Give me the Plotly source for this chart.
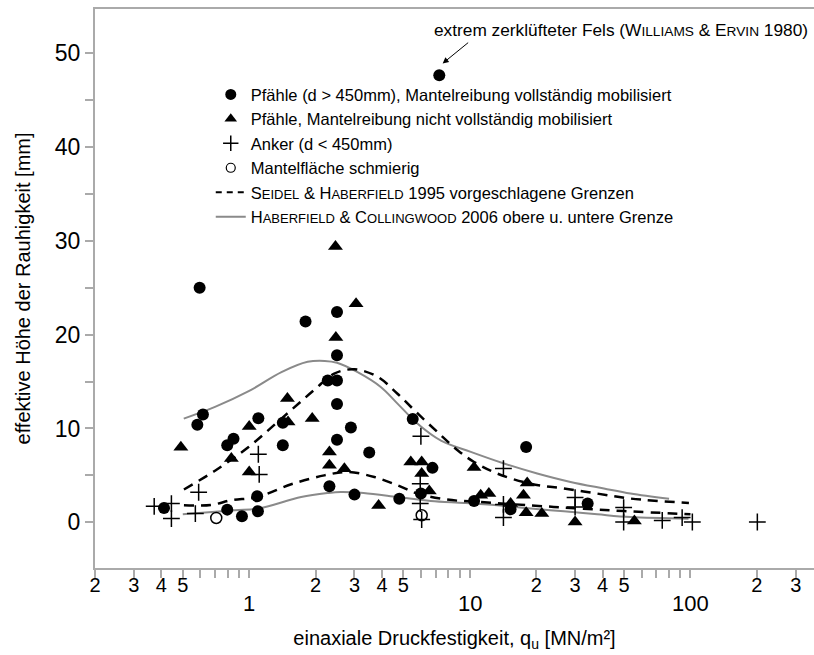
import math
import plotly.graph_objects as go

# ---------------- data ----------------
# Pfähle (d > 450mm), Mantelreibung vollständig mobilisiert  (filled circles)
PF_X = [0.411, 0.596, 0.617, 0.582, 0.795, 0.849, 0.795, 0.927, 1.095, 1.087, 1.10, 1.42, 1.42,
        1.80, 2.5, 2.5, 2.27, 2.5, 2.5, 2.5, 2.89, 3.5, 2.31, 3.0, 4.79, 5.51, 6.77, 6.0,
        7.27, 10.45, 15.3, 18.0, 34.2]
PF_Y = [1.53, 25.0, 11.5, 10.4, 8.2, 8.9, 1.35, 0.64, 1.17, 2.77, 11.1, 10.6, 8.2,
        21.4, 22.4, 17.8, 15.1, 15.1, 12.6, 8.8, 10.1, 7.43, 3.84, 2.95, 2.5, 11.0, 5.8, 3.06,
        47.65, 2.27, 1.39, 8.03, 2.0]

# Pfähle, Mantelreibung nicht vollständig mobilisiert (filled triangles)
PN_X = [0.49, 0.83, 1.0, 1.0, 1.50, 1.49, 1.93, 2.46, 2.47, 2.31, 2.31, 2.7, 3.05, 3.86,
        5.4, 6.05, 6.05, 6.55, 10.45, 11.2, 12.2, 15.3, 18.2, 17.5, 18.0, 21.2, 30.0, 55.7]
PN_Y = [8.0, 6.8, 10.2, 5.36, 10.7, 13.2, 11.05, 29.4, 19.7, 7.5, 6.08, 5.7, 23.3, 1.8,
        6.43, 6.43, 5.2, 3.34, 5.83, 2.88, 3.06, 2.0, 4.19, 2.88, 1.03, 0.93, 0.03, 0.14]

# Anker (d < 450mm) (plus signs)
AN_X = [0.371, 0.444, 0.444, 0.59, 0.57, 1.1, 1.11, 6.0, 5.96, 5.96, 6.05, 14.2, 14.2, 14.2,
        30.0, 30.0, 49.8, 49.8, 74.5, 91.7, 102.0, 201.0]
AN_Y = [1.7, 2.0, 0.4, 3.2, 0.93, 7.25, 5.1, 9.17, 4.1, 2.0, 0.29, 5.72, 1.9, 0.5,
        2.63, 1.63, 1.57, 0.03, 0.2, 0.5, 0.03, 0.03]

# Mantelfläche schmierig (open circles)
MS_X = [0.709, 6.05]
MS_Y = [0.46, 0.75]

# Seidel & Haberfield 1995 (dashed) upper / lower
SH_UP_X = [0.506, 0.70, 0.99, 1.4, 1.97, 2.43, 3.0, 3.82, 4.7, 5.8, 7.4, 8.8, 10.45, 13.3, 18.9, 26.7, 37.8, 53.5, 98.4]
SH_UP_Y = [3.5, 5.5, 8.0, 11.05, 14.1, 15.85, 16.3, 15.5, 13.7, 11.6, 9.27, 7.68, 6.43, 5.2, 4.1, 3.6, 3.06, 2.53, 2.06]
SH_LO_X = [0.506, 0.67, 0.83, 1.09, 1.55, 2.19, 2.8, 3.69, 4.7, 5.8, 7.9, 11.2, 18.9, 30.0, 50.0, 100.0]
SH_LO_Y = [1.81, 1.85, 2.35, 2.7, 4.05, 5.0, 5.36, 4.83, 3.94, 3.06, 2.42, 2.16, 1.8, 1.5, 1.2, 0.85]

# Haberfield & Collingwood 2006 (grey) upper / lower
HC_UP_X = [0.505, 0.70, 1.0, 1.4, 1.84, 2.2, 2.5, 3.1, 3.96, 4.7, 5.8, 7.4, 10.1, 14.3, 20.2, 28.6, 40.5, 53.5, 80.0]
HC_UP_Y = [11.05, 12.3, 14.0, 16.0, 17.1, 17.2, 17.0, 16.0, 14.4, 12.65, 10.5, 8.7, 7.5, 6.26, 5.2, 4.3, 3.6, 3.06, 2.5]
HC_LO_X = [0.50, 0.86, 1.1, 1.72, 2.27, 2.6, 3.3, 4.7, 6.65, 9.43, 13.3, 18.9, 26.7, 37.8, 53.5, 98.0]
HC_LO_Y = [0.85, 1.28, 1.46, 2.7, 3.12, 3.23, 3.12, 2.7, 2.27, 2.06, 1.81, 1.46, 1.17, 0.85, 0.56, 0.39]

# extreme point annotation target
EXTREME_X, EXTREME_Y = 7.53, 48.9

# axis ticks
X_DECADES = [0.1, 1, 10, 100]
X_MULTS = [1, 2, 3, 4, 5, 6, 7, 8, 9]
X_LABELLED_MULTS = [2, 3, 4, 5]
X_MAJOR = [1, 10, 100]
Y_TICKS = [0, 10, 20, 30, 40, 50]
Y_MINOR = [5, 15, 25, 35, 45]

# ---------------- styling ----------------
FONT = "Arial, 'Liberation Sans', sans-serif"
AXIS_COL = "#aaaaaa"
GREY = "#8a8a8a"
SC = 'style="font-size:13px"'
SC_NOTE = 'style="font-size:13.7px"'

LEG_CIRCLE = "Pfähle (d > 450mm), Mantelreibung vollständig mobilisiert"
LEG_TRI = "Pfähle, Mantelreibung nicht vollständig mobilisiert"
LEG_PLUS = "Anker (d < 450mm)"
LEG_OPEN = "Mantelfläche schmierig"
LEG_SH = f"S<span {SC}>EIDEL</span> &amp; H<span {SC}>ABERFIELD</span> 1995 vorgeschlagene Grenzen"
LEG_HC = f"H<span {SC}>ABERFIELD</span> &amp; C<span {SC}>OLLINGWOOD</span> 2006 obere u. untere Grenze"
NOTE = f"extrem zerklüfteter Fels (W<span {SC_NOTE}>ILLIAMS</span> &amp; E<span {SC_NOTE}>RVIN</span> 1980)"

fig = go.Figure()

# curves
dash = "10px,7px"
fig.add_trace(go.Scatter(x=HC_UP_X, y=HC_UP_Y, mode="lines", line=dict(color=GREY, width=2, shape="spline"),
                         showlegend=False, hoverinfo="skip"))
fig.add_trace(go.Scatter(x=HC_LO_X, y=HC_LO_Y, mode="lines", line=dict(color=GREY, width=2, shape="spline"),
                         showlegend=False, hoverinfo="skip"))
fig.add_trace(go.Scatter(x=SH_UP_X, y=SH_UP_Y, mode="lines", line=dict(color="black", width=2.5, dash=dash, shape="spline"),
                         showlegend=False, hoverinfo="skip"))
fig.add_trace(go.Scatter(x=SH_LO_X, y=SH_LO_Y, mode="lines", line=dict(color="black", width=2.5, dash=dash, shape="spline"),
                         showlegend=False, hoverinfo="skip"))

# data points
fig.add_trace(go.Scatter(x=AN_X, y=AN_Y, mode="markers", showlegend=False,
                         marker=dict(symbol="cross-thin-open", size=12, color="black",
                                     line=dict(color="black", width=1.5))))
fig.add_trace(go.Scatter(x=PN_X, y=PN_Y, mode="markers", showlegend=False,
                         marker=dict(symbol="triangle-up", size=13, color="black")))
fig.add_trace(go.Scatter(x=PF_X, y=PF_Y, mode="markers", showlegend=False,
                         marker=dict(symbol="circle", size=12, color="black")))
fig.add_trace(go.Scatter(x=MS_X, y=MS_Y, mode="markers", showlegend=False,
                         marker=dict(symbol="circle-open", size=11, color="black", line=dict(color="black", width=1.5))))

# legend entries
fig.add_trace(go.Scatter(x=[None], y=[None], mode="markers", name=LEG_CIRCLE,
                         marker=dict(symbol="circle", size=11, color="black")))
fig.add_trace(go.Scatter(x=[None], y=[None], mode="markers", name=LEG_TRI,
                         marker=dict(symbol="triangle-up", size=11, color="black")))
fig.add_trace(go.Scatter(x=[None], y=[None], mode="markers", name=LEG_PLUS,
                         marker=dict(symbol="cross-thin-open", size=11, color="black",
                                     line=dict(color="black", width=1.5))))
fig.add_trace(go.Scatter(x=[None], y=[None], mode="markers", name=LEG_OPEN,
                         marker=dict(symbol="circle-open", size=9, color="black", line=dict(color="black", width=1.2))))
fig.add_trace(go.Scatter(x=[None], y=[None], mode="lines", name=LEG_SH,
                         line=dict(color="black", width=2, dash="6px,5px")))
fig.add_trace(go.Scatter(x=[None], y=[None], mode="lines", name=LEG_HC,
                         line=dict(color=GREY, width=2)))

# x ticks
tickvals, ticktext = [], []
for d in X_DECADES:
    for m in X_MULTS:
        v = m * d
        if 0.2 - 1e-9 <= v <= 300 + 1e-9:
            tickvals.append(v)
            ticktext.append(str(m) if m in X_LABELLED_MULTS else "")

annotations = []
for v in X_MAJOR:
    annotations.append(dict(x=math.log10(v), y=-0.063, xref="x", yref="paper", text=str(v), showarrow=False,
                            xanchor="center", yanchor="middle", font=dict(family=FONT, size=22, color="black")))

annotations.append(dict(x=0.4687, y=0.9624, xref="paper", yref="paper", text=NOTE, showarrow=False,
                        xanchor="left", yanchor="middle", font=dict(family=FONT, size=17.3, color="black")))
annotations.append(dict(x=math.log10(EXTREME_X), y=EXTREME_Y, xref="x", yref="y", text="", showarrow=True,
                        ax=27, ay=-22, arrowhead=2, arrowsize=1.2, arrowwidth=1, arrowcolor="black", standoff=0))

fig.update_layout(
    width=814, height=655,
    margin=dict(l=95, r=0, t=9, b=87, pad=0),
    paper_bgcolor="white", plot_bgcolor="white",
    font=dict(family=FONT, color="black"),
    showlegend=True,
    legend=dict(x=0.161, y=0.878, xanchor="left", yanchor="top", bgcolor="rgba(0,0,0,0)",
                borderwidth=0, font=dict(family=FONT, size=16.5, color="black"), itemwidth=30,
                tracegroupgap=0),
    annotations=annotations,
    xaxis=dict(type="log", range=[math.log10(0.2), 2.56], tickvals=tickvals, ticktext=ticktext,
               showgrid=False, zeroline=False, showline=True, linecolor=AXIS_COL, linewidth=2, mirror=True,
               ticks="outside", ticklen=8, tickwidth=2, tickcolor=AXIS_COL, ticklabelstandoff=-10,
               tickfont=dict(family=FONT, size=20, color="black"),
               title=dict(text="einaxiale Druckfestigkeit, q<sub>u</sub> [MN/m²]", standoff=36,
                          font=dict(family=FONT, size=20, color="black"))),
    yaxis=dict(range=[-4.87, 54.7], tickvals=Y_TICKS, showgrid=False, zeroline=False,
               showline=True, linecolor=AXIS_COL, linewidth=2, mirror=False,
               ticks="outside", ticklen=8, tickwidth=2, tickcolor=AXIS_COL,
               minor=dict(tickvals=Y_MINOR, ticks="outside", ticklen=8, tickwidth=2, tickcolor=AXIS_COL),
               tickfont=dict(family=FONT, size=23, color="black"),
               title=dict(text="effektive Höhe der Rauhigkeit [mm]", standoff=19,
                          font=dict(family=FONT, size=20, color="black"))),
)

fig.write_html("out.html")
